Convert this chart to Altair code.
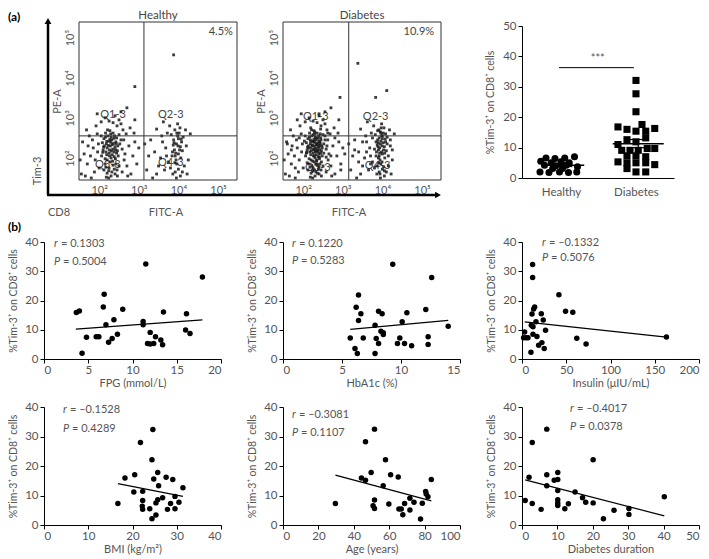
import altair as alt
import pandas as pd

FONT = "Lato"
GREY = "#555555"
DARK = "#333333"
YT = "%Tim-3\u207a on CD8\u207a cells"

# ---------------- (a) flow cytometry, values in log10 units ----------------
FLOW_XD = [1.49, 5.48]
FLOW_YD = [1.45, 5.39]
DECADES = [2, 3, 4, 5]
GATE_Y = 2.55

Q3_PTS = """
2.10 2.20, 2.18 2.35, 2.25 2.12, 2.32 2.45, 2.40 2.28, 2.48 2.05, 2.22 2.55, 2.35 2.62,
2.12 2.48, 2.28 2.30, 2.44 2.50, 2.52 2.35, 2.06 2.05, 2.15 1.98, 2.30 2.00, 2.38 2.15,
2.20 2.25, 2.42 2.40, 2.27 2.68, 2.50 2.58, 2.16 2.62, 2.34 2.22, 2.46 2.18, 2.08 2.38,
2.24 2.42, 2.36 2.36, 2.30 2.52, 2.19 2.08, 2.41 1.98, 2.55 2.45, 2.13 2.30, 2.26 2.20,
2.39 2.55, 2.47 2.30, 2.21 2.70, 2.33 2.08, 2.05 2.55, 2.58 2.22, 2.29 2.39, 2.17 2.15,
2.15 1.85, 2.25 1.75, 2.35 1.82, 2.45 1.70, 2.20 1.62, 2.30 1.55, 2.40 1.60, 2.18 1.52,
2.50 1.80, 2.28 1.90, 2.38 1.72, 2.12 1.70, 2.46 1.55, 2.32 1.65, 2.24 1.50,
1.55 1.60, 1.62 2.10, 1.70 1.85, 1.58 2.40, 1.75 2.55, 1.80 1.50, 1.85 2.25, 1.90 1.95,
1.95 2.60, 1.68 2.70, 1.88 1.65, 1.98 2.35, 1.78 2.05, 1.92 2.80, 2.00 1.75, 1.65 1.55,
1.52 1.95, 1.83 2.45, 1.72 2.30, 1.96 2.15, 2.60 2.70, 2.65 2.10, 2.70 1.80, 2.62 2.45,
2.75 2.30, 2.80 1.60, 2.68 2.60, 2.85 2.05, 2.90 2.40, 2.72 1.55, 2.95 1.85, 3.00 2.25,
2.58 1.65, 2.78 2.75, 2.63 1.95, 2.88 2.62, 2.55 2.85, 2.45 2.80, 2.35 2.88, 2.25 2.92,
2.05 2.90, 2.50 2.95, 2.40 3.05, 2.70 3.25, 2.15 3.00, 2.90 2.95, 1.95 3.10, 2.55 3.15,
2.11 2.27, 2.19 2.41, 2.26 2.05, 2.33 2.33, 2.41 2.21, 2.37 2.49, 2.23 2.31, 2.29 2.60,
2.44 2.12, 2.16 2.52, 2.31 2.17, 2.38 2.03, 2.20 1.95, 2.27 2.46, 2.43 2.36, 2.09 2.14,
2.34 1.92, 2.24 1.68, 2.42 1.85, 2.17 1.77
"""

Q4_PTS = """
3.90 2.20, 3.95 2.35, 4.00 2.10, 3.88 2.45, 4.05 2.28, 3.92 2.05, 3.98 2.55, 4.08 2.40,
3.85 2.15, 4.02 2.62, 3.94 1.95, 4.10 2.18, 3.87 2.32, 4.00 2.48, 3.96 1.85, 4.06 2.00,
3.82 2.58, 4.12 2.52, 3.91 2.70, 4.04 2.75, 3.80 1.75, 3.92 1.65, 4.05 1.55, 3.86 1.60,
4.00 1.72, 3.75 1.90, 4.15 1.80, 3.95 1.50, 4.10 1.65, 3.70 2.05, 3.45 1.60, 3.55 2.00,
3.60 2.40, 3.50 1.80, 3.65 1.70, 3.68 2.25, 3.72 2.62, 3.58 2.55, 3.40 2.15, 4.20 2.30,
4.25 1.95, 4.30 2.60, 4.18 2.70, 4.22 1.60, 3.35 1.50, 3.30 2.45, 3.20 1.70, 3.25 2.05,
3.15 2.35, 3.78 2.80, 3.98 2.85, 3.62 2.90, 3.45 2.72,
3.93 2.12, 3.99 2.30, 3.89 2.38, 4.03 2.20, 3.96 2.62, 3.84 2.05, 4.07 2.47, 3.91 1.88
"""

H_OUT = "2.90 3.78, 3.88 4.57"

D_Q3_EXTRA = """
2.30 2.25, 2.36 2.18, 2.42 2.32, 2.26 2.40, 2.33 2.50, 2.40 2.10, 2.20 2.18, 2.28 2.05,
2.45 2.45, 2.37 2.28, 2.22 2.32, 2.31 2.15, 2.48 2.25, 2.25 2.58, 2.39 2.42, 2.18 2.45,
2.34 1.95, 2.43 2.60, 2.27 2.22, 2.35 2.35, 2.52 2.12, 2.14 2.25, 2.29 2.65, 2.41 2.02,
2.24 1.92, 2.32 1.85, 2.40 1.78, 2.28 1.70, 2.36 1.62, 2.22 1.80, 2.46 1.90, 2.55 2.55,
2.60 2.30, 2.08 2.12, 2.03 2.42, 2.58 2.02, 2.19 2.75, 2.44 2.72, 2.62 2.62, 2.10 1.88,
1.70 2.20, 1.80 1.75, 1.60 2.35, 1.90 2.50, 2.70 2.05, 2.80 2.50, 2.95 1.70, 3.05 2.10,
1.85 2.95, 2.40 3.10
"""

D_Q4_EXTRA = """
3.93 2.25, 3.98 2.15, 4.02 2.38, 3.89 2.28, 3.96 2.42, 4.06 2.12, 3.90 2.00, 4.00 2.55,
3.84 2.40, 4.08 2.60, 3.95 2.65, 3.99 1.90, 3.86 1.80, 4.03 1.78, 3.92 2.50, 4.12 2.35,
3.80 2.22, 3.97 2.75, 4.15 2.05, 3.88 2.68, 3.75 2.50, 3.70 1.85, 4.20 2.45, 3.60 2.15,
3.50 2.40, 3.40 1.90, 3.30 2.20, 4.25 2.20, 3.94 1.60, 4.05 1.68
"""

D_OUT = "3.38 4.36, 4.11 3.68, 2.93 3.51, 3.83 3.51"

H_LABELS = ["Q1-3", "Q2-3", "Q3-3", "Q4-3", "4.5%"]
H_LAB_X = [2.35, 3.81, 2.22, 3.81, 5.07]
H_LAB_Y = [3.08, 3.08, 1.83, 1.88, 5.13]
D_LABELS = ["Q1-3", "Q2-3", "Q3-3", "Q4-3", "10.9%"]
D_LAB_X = [2.32, 3.83, 2.37, 3.88, 4.92]
D_LAB_Y = [3.01, 3.01, 1.76, 1.81, 5.13]
H_GATE_X = 3.13
D_GATE_X = 3.15

# ---------------- (a) dot plot ----------------
GROUPS = ["Healthy", "Diabetes"]
H_JIT = [-0.2, -0.08, 0.05, 0.18, -0.27, -0.13, 0, 0.11, -0.22, -0.07, 0.07, 0.22,
         -0.28, -0.16, -0.02, 0.1, 0.21, -0.11, 0.02]
H_VAL = [6.6, 6.4, 6.6, 7.0, 5.5, 5.0, 5.3, 5.0, 4.2, 4.0, 4.2, 3.7, 2.0, 1.8, 2.0,
         1.8, 2.0, 3.1, 3.1]
D_JIT = [0, 0, 0, 0.08, -0.24, -0.12, 0, 0.13, 0.25, -0.24, -0.12, 0, 0.13, 0.25,
         -0.19, -0.08, 0.03, 0.15, -0.12, 0, 0.13, -0.24, -0.12, 0, 0.13, 0.25,
         -0.12, 0, 0.13]
D_VAL = [32.1, 27.7, 21.8, 17.6, 16.8, 16.0, 15.4, 15.4, 16.3, 11.0, 12.6, 11.9, 13.2,
         9.7, 9.1, 9.1, 9.1, 9.7, 7.3, 7.3, 7.0, 5.3, 5.0, 5.0, 5.0, 4.4, 3.1, 2.0, 2.0]
SIG_Y = 36.3
SIG_TEXT = "***"

# ---------------- (b) correlations ----------------
FPG_X = [3.65, 4.0, 4.3, 4.8, 5.9, 6.2, 6.8, 6.7, 7.0, 7.3, 7.7, 7.9, 8.3, 8.9, 11.2, 11.2,
         11.5, 11.7, 12.0, 12.0, 12.4, 12.6, 13.2, 13.4, 13.5, 16.1, 16.0, 16.5, 17.9]
FPG_Y = [15.9, 16.4, 2.0, 7.4, 7.6, 7.6, 22.1, 17.8, 11.7, 5.7, 7.0, 13.4, 8.5, 17.0, 12.8,
         11.7, 32.5, 5.3, 9.1, 5.1, 5.3, 7.6, 6.5, 4.9, 16.1, 15.5, 9.9, 8.7, 28.0]
FPG_FIT = ([3.6, 17.9], [10.2, 13.4])

HBA_X = [5.7, 6.1, 6.3, 6.2, 6.4, 6.4, 6.6, 6.8, 7.8, 7.8, 7.9, 8.1, 8.1, 8.4, 8.3, 8.5, 8.5,
         9.3, 9.7, 9.9, 10.1, 10.3, 10.5, 10.9, 12.1, 12.3, 12.3, 12.6, 14.0]
HBA_Y = [7.2, 3.6, 1.9, 17.7, 21.9, 13.2, 15.5, 7.2, 1.9, 11.5, 7.0, 16.3, 5.3, 15.5, 9.5,
         9.0, 8.4, 32.4, 5.3, 7.2, 12.7, 5.3, 15.8, 4.5, 16.9, 7.6, 5.0, 27.9, 11.2]
HBA_FIT = ([5.7, 14.0], [10.1, 13.2])

INS_X = [1.8, 3.0, 4.5, 6.8, 10.1, 10.5, 12.0, 12.0, 11.3, 12.4, 13.1, 14.3, 12.4, 15.8,
         16.9, 18.8, 21.8, 22.5, 24.0, 25.1, 26.6, 41.7, 49.2, 57.4, 61.9, 72.4, 163.2]
INS_Y = [7.3, 9.2, 7.3, 7.3, 2.3, 11.5, 32.3, 27.9, 15.4, 11.0, 17.1, 17.8, 8.5, 12.7,
         7.7, 4.7, 15.5, 5.6, 13.3, 3.6, 9.8, 22.0, 16.3, 16.0, 7.1, 5.1, 7.5]
INS_FIT = ([3.0, 163.2], [12.7, 7.5])

BMI_X = [16.7, 18.3, 20.5, 20.3, 22.3, 21.8, 22.3, 22.2, 22.3, 23.9, 24.4, 24.6, 24.8, 24.4,
         25.3, 25.3, 25.7, 25.9, 25.7, 26.8, 27.6, 27.9, 28.6, 29.1, 29.6, 29.6, 30.5, 31.4]
BMI_Y = [7.3, 15.9, 17.0, 11.2, 11.4, 28.0, 8.3, 6.4, 5.3, 5.5, 22.1, 32.4, 15.6, 2.1,
         3.4, 7.5, 8.6, 13.3, 17.8, 9.2, 16.2, 5.3, 7.3, 15.4, 9.7, 5.5, 7.7, 12.6]
BMI_FIT = ([16.7, 31.4], [14.0, 9.7])

AGE_X = [29.6, 44.3, 46.6, 46.6, 49.8, 50.9, 51.7, 51.7, 51.7, 56.6, 57.9, 59.8, 60.8, 65.1,
         65.5, 66.8, 67.7, 68.7, 71.7, 71.7, 74.0, 77.7, 78.7, 80.6, 80.9, 81.9, 83.8]
AGE_Y = [7.3, 15.9, 15.2, 28.2, 17.8, 6.5, 5.6, 8.5, 32.5, 13.3, 22.1, 7.1, 17.0, 16.3,
         5.4, 5.4, 3.5, 7.3, 9.1, 5.1, 7.7, 2.0, 7.4, 11.4, 10.5, 9.6, 15.4]
AGE_FIT = ([29.6, 83.8], [16.9, 8.2])

DUR_X = [0.9, 2.0, 2.9, 2.9, 5.4, 7.0, 7.0, 7.0, 9.1, 10.1, 10.1, 10.1, 10.1, 10.1, 10.1,
         12.1, 13.1, 15.0, 17.1, 18.0, 20.1, 20.1, 23.0, 26.0, 30.2, 30.2, 40.2]
DUR_Y = [8.3, 16.2, 7.3, 28.0, 5.3, 32.5, 17.0, 13.3, 15.2, 15.4, 17.8, 11.7, 8.6, 7.5,
         6.6, 5.5, 7.2, 11.2, 9.2, 7.7, 7.5, 22.1, 2.1, 5.0, 5.6, 3.6, 9.6]
DUR_FIT = ([0.9, 40.2], [15.3, 3.1])

STATS_R = ["= 0.1303", "= 0.1220", "= \u20130.1332", "= \u20130.1528", "= \u20130.3081", "= \u20130.4017"]
STATS_P = ["= 0.5004", "= 0.5283", "= 0.5076", "= 0.4289", "= 0.1107", "= 0.0378"]


def pairs(s):
    v = [float(t) for t in s.replace(",", " ").split()]
    return v[0::2], v[1::2]


def txt(text, x, y, **kw):
    style = dict(font=FONT, fontSize=11, color=GREY)
    style.update(kw)
    return alt.Chart(pd.DataFrame({"t": [text]})).mark_text(**style).encode(
        x=alt.value(x), y=alt.value(y), text="t:N")


SUP = ("datum.value == 2 ? '10\u00b2' : datum.value == 3 ? '10\u00b3' : "
       "datum.value == 4 ? '10\u2074' : '10\u2075'")

ROW_A_H = 172
BOX_H = 158


def flow_panel(pt_strings, labels, lab_x, lab_y, gate_x, xrange, yoffset, title, extras):
    xs, ys = [], []
    for s in pt_strings:
        a, b = pairs(s)
        xs += a
        ys += b
    pts = pd.DataFrame({"x": xs, "y": ys})
    xsc = alt.Scale(domain=FLOW_XD, range=xrange, nice=False, zero=False)
    ysc = alt.Scale(domain=FLOW_YD, range=[BOX_H, 0], nice=False, zero=False)
    xax = alt.Axis(values=DECADES, labelExpr=SUP, title=None, domain=False, ticks=False,
                   labelPadding=4, offset=BOX_H - ROW_A_H, labelAngle=0, labelFontSize=11)
    yax = alt.Axis(values=DECADES, labelExpr=SUP, title="PE-A", domain=False, ticks=False,
                   labelPadding=4, offset=yoffset, labelAngle=-90, labelFontSize=11,
                   titleFontSize=11, titlePadding=2)

    def X(f):
        return alt.X(f, scale=xsc, axis=xax)

    def Y(f):
        return alt.Y(f, scale=ysc, axis=yax)

    frame = pd.DataFrame({"x": [FLOW_XD[0]], "x2": [FLOW_XD[1]],
                          "y": [FLOW_YD[0]], "y2": [FLOW_YD[1]]})
    gates = pd.DataFrame({"x": [gate_x, FLOW_XD[0]], "x2": [gate_x, FLOW_XD[1]],
                          "y": [FLOW_YD[0], GATE_Y], "y2": [FLOW_YD[1], GATE_Y]})
    labs = pd.DataFrame({"x": lab_x, "y": lab_y, "t": labels})

    lab_layer = alt.Chart(labs).mark_text(font=FONT, fontSize=11, color="#444").encode(
        x=X("x:Q"), y=Y("y:Q"), text="t:N")
    dot_layer = alt.Chart(pts).mark_square(size=8, color="#1a1a1a", opacity=0.85).encode(
        x=X("x:Q"), y=Y("y:Q"))
    gate_layer = alt.Chart(gates).mark_rule(color=DARK, strokeWidth=1).encode(
        x=X("x:Q"), x2="x2:Q", y=Y("y:Q"), y2="y2:Q")
    frame_layer = alt.Chart(frame).mark_rect(filled=False, stroke=DARK, strokeWidth=1).encode(
        x=X("x:Q"), x2="x2:Q", y=Y("y:Q"), y2="y2:Q")
    cx = (xrange[0] + xrange[1]) / 2
    title_layer = txt(title, cx, -6, fontSize=11.5, color="#444", baseline="middle")
    return alt.layer(lab_layer, dot_layer, gate_layer, frame_layer, title_layer,
                     *extras).properties(width=177, height=ROW_A_H)


arrow_layers = [
    alt.Chart(pd.DataFrame({"a": [0]})).mark_rule(color="black", strokeWidth=2.5).encode(
        x=alt.value(4), y=alt.value(173), y2=alt.value(0)),
    alt.Chart(pd.DataFrame({"a": [0]})).mark_rule(color="black", strokeWidth=2.5).encode(
        x=alt.value(3), x2=alt.value(392), y=alt.value(173)),
    alt.Chart(pd.DataFrame({"a": [0]})).mark_point(shape="triangle-up", filled=True,
                                                   color="black", size=45, opacity=1).encode(
        x=alt.value(4), y=alt.value(-1)),
    alt.Chart(pd.DataFrame({"a": [0]})).mark_point(shape="triangle-right", filled=True,
                                                   color="black", size=45, opacity=1).encode(
        x=alt.value(394), y=alt.value(173)),
    txt("Tim-3", -6, 149, angle=270, baseline="middle"),
    txt("CD8", 15, 191, baseline="middle"),
    txt("FITC-A", 122, 191, baseline="middle"),
    txt("(a)", -36, -5, align="left", baseline="middle", fontWeight="bold", fontSize=12,
        color="black"),
]

flow_h = flow_panel([Q3_PTS, Q4_PTS, H_OUT], H_LABELS, H_LAB_X, H_LAB_Y, H_GATE_X,
                    [35, 193], -35, "Healthy", arrow_layers)
flow_d = flow_panel([Q3_PTS, D_Q3_EXTRA, Q4_PTS, D_Q4_EXTRA, D_OUT], D_LABELS, D_LAB_X,
                    D_LAB_Y, D_GATE_X, [0, 158], 0, "Diabetes",
                    [txt("FITC-A", 66, 191, baseline="middle")])

# ---------------- dot plot ----------------
dots = pd.DataFrame({
    "g": [1] * len(H_VAL) + [2] * len(D_VAL),
    "group": [GROUPS[0]] * len(H_VAL) + [GROUPS[1]] * len(D_VAL),
    "pos": [1 + j for j in H_JIT] + [2 + j for j in D_JIT],
    "v": H_VAL + D_VAL,
})
stats = dots.groupby("g")["v"].agg(["mean", "sem"]).reset_index()
stats["x1"] = stats["g"] + 0.03 - stats["g"].map({1: 0.28, 2: 0.34})
stats["x2"] = stats["g"] + 0.03 + stats["g"].map({1: 0.28, 2: 0.34})
stats["c1"] = stats["g"] + 0.03 - 0.12
stats["c2"] = stats["g"] + 0.03 + 0.12
stats["cx"] = stats["g"] + 0.03
stats["lo"] = stats["mean"] - stats["sem"]
stats["hi"] = stats["mean"] + stats["sem"]

dxs = alt.Scale(domain=[0.48, 2.507], range=[0, 152], nice=False, zero=False)
dys = alt.Scale(domain=[0, 50], range=[156, 4], nice=False)
dxa = alt.Axis(values=[1, 2], labelExpr="datum.value == 1 ? 'Healthy' : 'Diabetes'",
               title=None, ticks=False, labelPadding=8, offset=156 - ROW_A_H,
               labelFontSize=11.5)
dya = alt.Axis(values=[0, 10, 20, 30, 40, 50], title=YT, titlePadding=7)


def DX(f):
    return alt.X(f, scale=dxs, axis=dxa)


def DY(f):
    return alt.Y(f, scale=dys, axis=dya)


dot_pts = alt.Chart(dots).mark_point(filled=True, size=50, opacity=1, color="black").encode(
    x=DX("pos:Q"), y=DY("v:Q"),
    shape=alt.Shape("group:N", scale=alt.Scale(domain=GROUPS, range=["circle", "square"]),
                    legend=None))
mean_rule = alt.Chart(stats).mark_rule(color="black", strokeWidth=1.5).encode(
    x=DX("x1:Q"), x2="x2:Q", y=DY("mean:Q"))
sem_v = alt.Chart(stats).mark_rule(color="black", strokeWidth=1.2).encode(
    x=DX("cx:Q"), y=DY("lo:Q"), y2="hi:Q")
sem_lo = alt.Chart(stats).mark_rule(color="black", strokeWidth=1.2).encode(
    x=DX("c1:Q"), x2="c2:Q", y=DY("lo:Q"))
sem_hi = alt.Chart(stats).mark_rule(color="black", strokeWidth=1.2).encode(
    x=DX("c1:Q"), x2="c2:Q", y=DY("hi:Q"))
sig = pd.DataFrame({"x": [0.973], "x2": [1.973], "y": [SIG_Y], "xm": [1.49],
                    "ym": [SIG_Y + 1.2], "t": [SIG_TEXT]})
sig_rule = alt.Chart(sig).mark_rule(color="black", strokeWidth=1).encode(
    x=DX("x:Q"), x2="x2:Q", y=DY("y:Q"))
sig_txt = alt.Chart(sig).mark_text(font=FONT, fontSize=11, color=GREY, baseline="bottom").encode(
    x=DX("xm:Q"), y=DY("ym:Q"), text="t:N")
dot_chart = alt.layer(dot_pts, mean_rule, sem_v, sem_lo, sem_hi, sig_rule, sig_txt).properties(
    width=177, height=ROW_A_H)


# ---------------- (b) scatter panels ----------------
def scatter(xs, ys, xmax, xstep, xtitle, fit, k, ann_x, ann_y, height, extra=()):
    df = pd.DataFrame({"x": xs, "y": ys})
    xsc = alt.Scale(domain=[0, xmax], nice=False, zero=False)
    ysc = alt.Scale(domain=[0, 40], nice=False)
    xax = alt.Axis(values=list(range(0, xmax + 1, xstep)), title=xtitle, titlePadding=2,
                   labelPadding=1, titleFontSize=11)
    yax = alt.Axis(values=[0, 10, 20, 30, 40], title=YT, titlePadding=6)
    pts = alt.Chart(df).mark_circle(size=30, color="black", opacity=1).encode(
        x=alt.X("x:Q", scale=xsc, axis=xax), y=alt.Y("y:Q", scale=ysc, axis=yax))
    fdf = pd.DataFrame({"x": fit[0], "y": fit[1]})
    line = alt.Chart(fdf).mark_line(color="black", strokeWidth=1.2).encode(
        x=alt.X("x:Q", scale=xsc, axis=xax), y=alt.Y("y:Q", scale=ysc, axis=yax))
    ann = [
        txt("r", ann_x, ann_y[0], align="left", baseline="middle", fontStyle="italic"),
        txt(STATS_R[k], ann_x + 7, ann_y[0], align="left", baseline="middle"),
        txt("P", ann_x, ann_y[1], align="left", baseline="middle", fontStyle="italic"),
        txt(STATS_P[k], ann_x + 9, ann_y[1], align="left", baseline="middle"),
    ]
    return alt.layer(pts, line, *ann, *extra).properties(width=177, height=height)


b_label = [txt("(b)", -36, -15, align="left", baseline="middle", fontWeight="bold",
               fontSize=12, color="black")]

p1 = scatter(FPG_X, FPG_Y, 20, 5, "FPG (mmol/L)", FPG_FIT, 0, 10, [2, 20], 117, b_label)
p2 = scatter(HBA_X, HBA_Y, 15, 5, "HbA1c (%)", HBA_FIT, 1, 9, [2, 19], 117)
p3 = scatter(INS_X, INS_Y, 200, 50, "Insulin (\u03bcIU/mL)", INS_FIT, 2, 20, [1, 16], 117)
p4 = scatter(BMI_X, BMI_Y, 40, 10, "BMI (kg/m\u00b2)", BMI_FIT, 3, 19, [3, 22], 118)
p5 = scatter(AGE_X, AGE_Y, 100, 20, "Age (years)", AGE_FIT, 4, 9, [8, 26], 118)
p6 = scatter(DUR_X, DUR_Y, 50, 10, "Diabetes duration", DUR_FIT, 5, 48, [2, 20], 118)

chart = alt.concat(
    flow_h, flow_d, dot_chart, p1, p2, p3, p4, p5, p6,
    columns=3, spacing={"row": 48, "column": 62}, bounds="flush",
).properties(padding={"left": 0, "top": 2, "right": 0, "bottom": 0}).configure(
    font=FONT).configure_view(strokeWidth=0).configure_axis(
    labelFont=FONT, labelFontSize=11.5, labelColor=GREY, titleFont=FONT, titleFontSize=10.5,
    titleColor=GREY, titleFontWeight="normal", domainColor="black", tickColor="black",
    tickSize=4, grid=False, labelPadding=2,
)

chart.save("out.html", embed_options={"renderer": "svg", "actions": False})
